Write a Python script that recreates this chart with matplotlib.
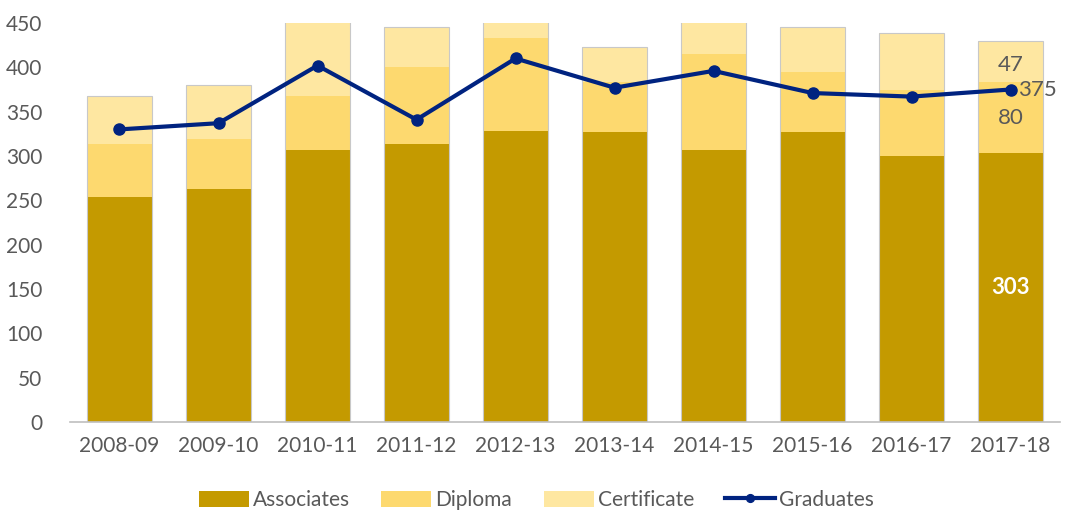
import numpy as np
import matplotlib.pyplot as plt

years = ['2008-09', '2009-10', '2010-11', '2011-12', '2012-13',
         '2013-14', '2014-15', '2015-16', '2016-17', '2017-18']
associates = [254, 263, 307, 313, 328, 327, 307, 327, 300, 303]
diploma = [59, 56, 61, 87, 105, 57, 108, 68, 75, 80]
certificate = [55, 61, 85, 46, 25, 39, 40, 51, 64, 47]
graduates = [330, 337, 402, 341, 410, 377, 396, 371, 367, 375]

plt.rcParams['font.family'] = ['Lato', 'DejaVu Sans']
c_assoc = '#C49A00'
c_dip = '#FDD96F'
c_cert = '#FEE7A1'
c_grad = '#002380'
grey = '#595959'

fig = plt.figure(figsize=(10.73, 5.12), dpi=100)
ax = fig.add_axes([70/1073, 1-422/512, 990/1073, 399/512])

x = np.arange(len(years))
w = 0.66
assoc = np.array(associates)
dip = np.array(diploma)
cert = np.array(certificate)
b1 = ax.bar(x, assoc, w, color=c_assoc, label='Associates', zorder=2)
b2 = ax.bar(x, dip, w, bottom=assoc, color=c_dip, label='Diploma', zorder=2)
b3 = ax.bar(x, cert, w, bottom=assoc + dip, color=c_cert, label='Certificate', zorder=2)
ax.bar(x, assoc + dip + cert, w, fill=False, edgecolor='#c8c8c8', linewidth=0.8, zorder=2)
ln, = ax.plot(x, graduates, color=c_grad, lw=3, marker='o', ms=8, label='Graduates', zorder=3)

i = len(years) - 1
ax.text(x[i], assoc[i] / 2, str(assoc[i]), color='white', fontsize=16, fontweight='bold',
        ha='center', va='center', zorder=4)
ax.text(x[i], assoc[i] + dip[i] / 2 - 0, str(dip[i]), color=grey, fontsize=16,
        ha='center', va='center', zorder=4)
ax.text(x[i], assoc[i] + dip[i] + cert[i] / 2 - 4, str(cert[i]), color=grey, fontsize=16,
        ha='center', va='center', zorder=4)
ax.text(x[i] + 0.08, graduates[i], str(graduates[i]), color=grey, fontsize=16,
        ha='left', va='center', zorder=4)

ax.set_xlim(-0.5, len(years) - 0.5)
ax.set_ylim(0, 450)
ax.set_yticks(range(0, 451, 50))
ax.set_xticks(x)
ax.set_xticklabels(years)
ax.tick_params(length=0, labelsize=15, colors=grey)
ax.tick_params(axis='x', pad=10)
ax.tick_params(axis='y', pad=20)
for s in ['top', 'right', 'left']:
    ax.spines[s].set_visible(False)
ax.spines['bottom'].set_color('#bfbfbf')
ax.spines['bottom'].set_linewidth(1.2)

leg = fig.legend([b1, b2, b3, ln], ['Associates', 'Diploma', 'Certificate', 'Graduates'],
                 loc='center', bbox_to_anchor=(0.5, 1-500/512), ncol=4, frameon=False,
                 fontsize=15, handlelength=2.4, handleheight=0.8, columnspacing=1.5,
                 handletextpad=0.2, markerscale=0.7)
for t in leg.get_texts():
    t.set_color(grey)

fig.savefig('out.png', dpi=100)
